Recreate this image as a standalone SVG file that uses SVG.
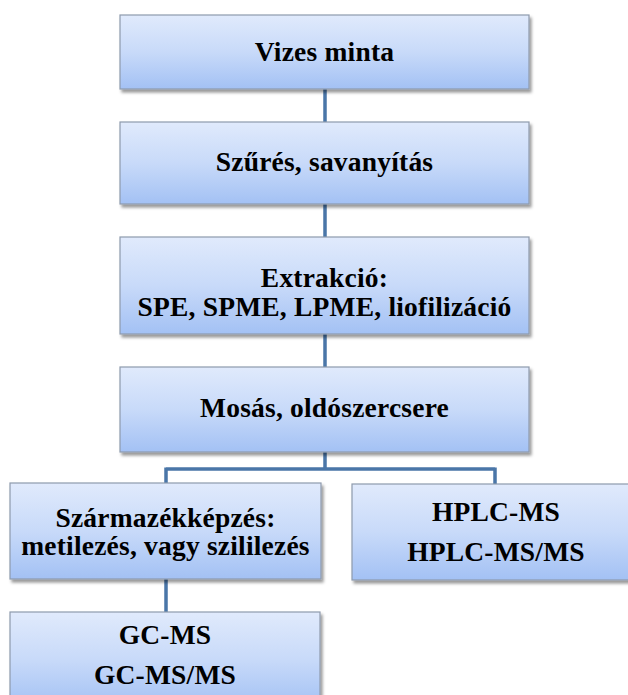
<svg xmlns="http://www.w3.org/2000/svg" width="628" height="695" viewBox="0 0 628 695">
<defs>
<linearGradient id="g" x1="0" y1="0" x2="0" y2="1">
<stop offset="0" stop-color="#e0eafc"/>
<stop offset="0.5" stop-color="#c8daf9"/>
<stop offset="1" stop-color="#a3c1f4"/>
</linearGradient>
<filter id="sh" x="-5%" y="-10%" width="115%" height="130%">
<feDropShadow dx="2" dy="3" stdDeviation="1.8" flood-color="#000" flood-opacity="0.4"/>
</filter>
</defs>
<style>
.box{fill:url(#g);stroke:#8e9aac;stroke-width:1.2;filter:url(#sh)}
.t{font-family:"Liberation Serif","Times New Roman",serif;font-weight:bold;font-size:27.5px;letter-spacing:0.2px;fill:#000;text-anchor:middle}
.c{stroke:#4a76a8;stroke-width:3.5;fill:none}
</style>
<rect width="628" height="695" fill="#fff"/>
<g id="connectors">
<path class="c" d="M325 89V122M325 204V237M325 334V367M325 452V469M166 469H495M166 467.5V483M495 467.5V484M166 579V612"/>
</g>
<g id="n1"><rect class="box" x="120" y="15" width="409" height="74"/><text class="t" x="324.5" y="61">Vizes minta</text></g>
<g id="n2"><rect class="box" x="120" y="122" width="409" height="82"/><text class="t" x="324.5" y="171">Szűrés, savanyítás</text></g>
<g id="n3"><rect class="box" x="120" y="237" width="409" height="97"/><text class="t" x="324.5" y="287">Extrakció:</text><text class="t" x="324.5" y="316">SPE, SPME, LPME, liofilizáció</text></g>
<g id="n4"><rect class="box" x="120" y="367" width="409" height="85"/><text class="t" x="324.5" y="417">Mosás, oldószercsere</text></g>
<g id="n5"><rect class="box" x="10" y="483" width="311" height="96"/><text class="t" x="165.5" y="527">Származékképzés:</text><text class="t" x="165.5" y="555">metilezés, vagy szililezés</text></g>
<g id="n6"><rect class="box" x="352" y="484" width="288" height="96"/><text class="t" x="496" y="521">HPLC-MS</text><text class="t" x="496" y="561">HPLC-MS/MS</text></g>
<g id="n7"><rect class="box" x="10" y="612" width="310" height="95"/><text class="t" x="165" y="644">GC-MS</text><text class="t" x="165" y="684">GC-MS/MS</text></g>
</svg>
